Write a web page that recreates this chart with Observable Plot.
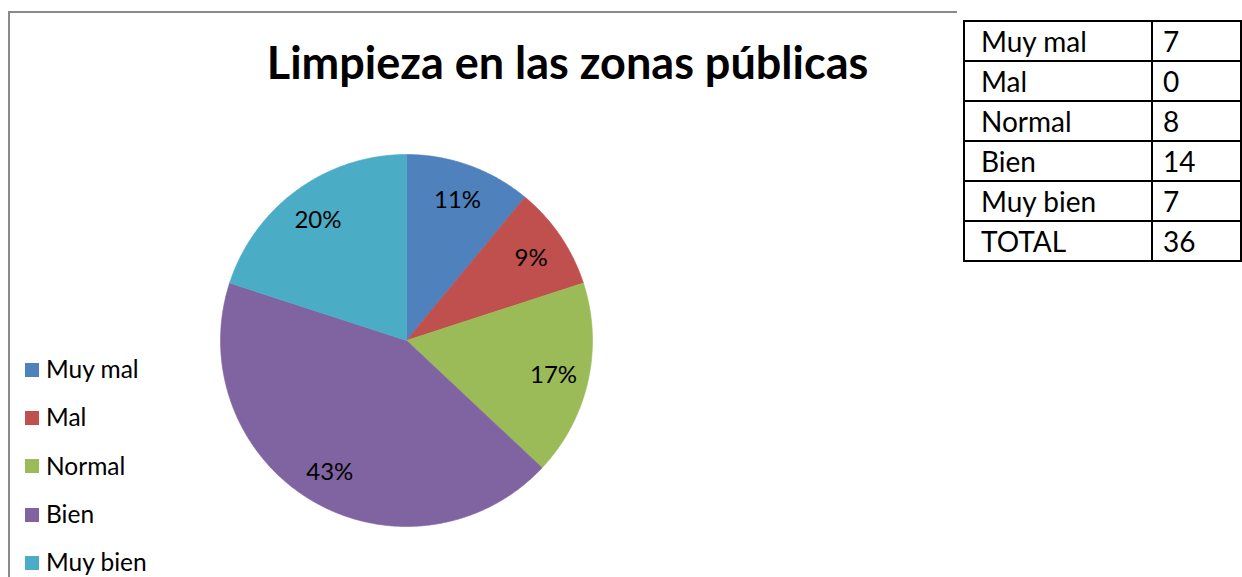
<!DOCTYPE html>
<html>
<head>
<meta charset="utf-8">
<script src="https://cdn.jsdelivr.net/npm/d3@7"></script>
<script src="https://cdn.jsdelivr.net/npm/@observablehq/plot@0.6"></script>
<style>
  html, body { margin: 0; padding: 0; background: #fff; }
  #page { position: relative; width: 1242px; height: 577px; overflow: hidden; background: #fff; font-family: Lato, "Open Sans", sans-serif; }
  #frame { position: absolute; left: 8px; top: 11px; width: 1400px; height: 700px; border-top: 2px solid #8a8a8a; border-left: 2px solid #8a8a8a; box-sizing: border-box; }
  #plotHost { position: absolute; left: 0; top: 0; }
  #title { position: absolute; left: 0; width: 1135px; text-align: center; top: 35px; font-size: 45px; font-weight: bold; color: #000; white-space: nowrap; }
  #legend { position: absolute; left: 25px; top: 0; }
  .li { position: absolute; left: 0; white-space: nowrap; font-size: 24.5px; color: #000; height: 30px; line-height: 30px; }
  .sw { display: inline-block; width: 14px; height: 14px; vertical-align: middle; margin-right: 7px; position: relative; top: -2px; }
  #tableBox { position: absolute; left: 957px; top: 0; width: 300px; height: 266px; background: #fff; }
  #tbl { position: absolute; left: 963px; top: 20px; border-collapse: collapse; font-size: 28px; }
  #tbl td { border: 2px solid #000; height: 38px; padding: 0; line-height: 38px; }
  #tbl td.k { width: 172px; padding-left: 16px; }
  #tbl td.v { width: 78px; padding-left: 10px; }
</style>
</head>
<body>
<div id="page">
  <div id="frame"></div>
  <div id="plotHost"></div>
  <div id="title"></div>
  <div id="legend"></div>
  <div id="tableBox"></div>
  <table id="tbl"></table>
</div>
<script>
// ---- Data ----
const title = "Limpieza en las zonas públicas";
const categories = ["Muy mal", "Mal", "Normal", "Bien", "Muy bien"];
const percents = [11, 9, 17, 43, 20];
const colors = ["#4F81BD", "#C0504D", "#9BBB59", "#8064A2", "#4BACC6"];
const tableLabels = ["Muy mal", "Mal", "Normal", "Bien", "Muy bien", "TOTAL"];
const tableValues = [7, 0, 8, 14, 7, 36];

// ---- Pie geometry from data ----
const arcs = d3.pie().sort(null).value(d => d)(percents);
const polys = [];
arcs.forEach((a, i) => {
  const cat = categories[i];
  polys.push({cat, x: 0, y: 0});
  const n = Math.max(2, Math.ceil((a.endAngle - a.startAngle) / (Math.PI / 360)));
  for (let k = 0; k <= n; k++) {
    const t = a.startAngle + (a.endAngle - a.startAngle) * k / n;
    polys.push({cat, x: Math.sin(t), y: Math.cos(t)});
  }
  polys.push({cat, x: 0, y: 0});
});
const labels = arcs.map((a, i) => {
  const m = (a.startAngle + a.endAngle) / 2;
  return {cat: categories[i], text: percents[i] + "%", x: 0.81 * Math.sin(m), y: 0.81 * Math.cos(m)};
});

const cx = 406, cy = 340, R = 186;
const chart = Plot.plot({
  width: 1242,
  height: 577,
  margin: 0,
  x: {domain: [-1, 1], range: [cx - R, cx + R], axis: null},
  y: {domain: [-1, 1], range: [cy + R, cy - R], axis: null},
  color: {domain: categories, range: colors},
  style: {background: "transparent", overflow: "visible"},
  marks: [
    Plot.line(polys, {x: "x", y: "y", z: "cat", fill: "cat", stroke: "cat", strokeWidth: 0.6, curve: "linear"}),
    Plot.text(labels, {x: "x", y: "y", text: "text", fontSize: 24, dy: 2, fontFamily: "Lato, 'Open Sans', sans-serif", fill: "#000"})
  ]
});
document.getElementById("plotHost").appendChild(chart);

// ---- Title ----
document.getElementById("title").textContent = title;

// ---- Legend ----
const legend = document.getElementById("legend");
categories.forEach((c, i) => {
  const d = document.createElement("div");
  d.className = "li";
  d.style.top = (354 + 48.3 * i) + "px";
  d.innerHTML = `<span class="sw" style="background:${colors[i]}"></span>`;
  d.appendChild(document.createTextNode(c));
  legend.appendChild(d);
});

// ---- Table ----
const tbl = document.getElementById("tbl");
tableLabels.forEach((l, i) => {
  const tr = document.createElement("tr");
  const a = document.createElement("td"); a.className = "k"; a.textContent = l;
  const b = document.createElement("td"); b.className = "v"; b.textContent = tableValues[i];
  tr.appendChild(a); tr.appendChild(b); tbl.appendChild(tr);
});
</script>
</body>
</html>
